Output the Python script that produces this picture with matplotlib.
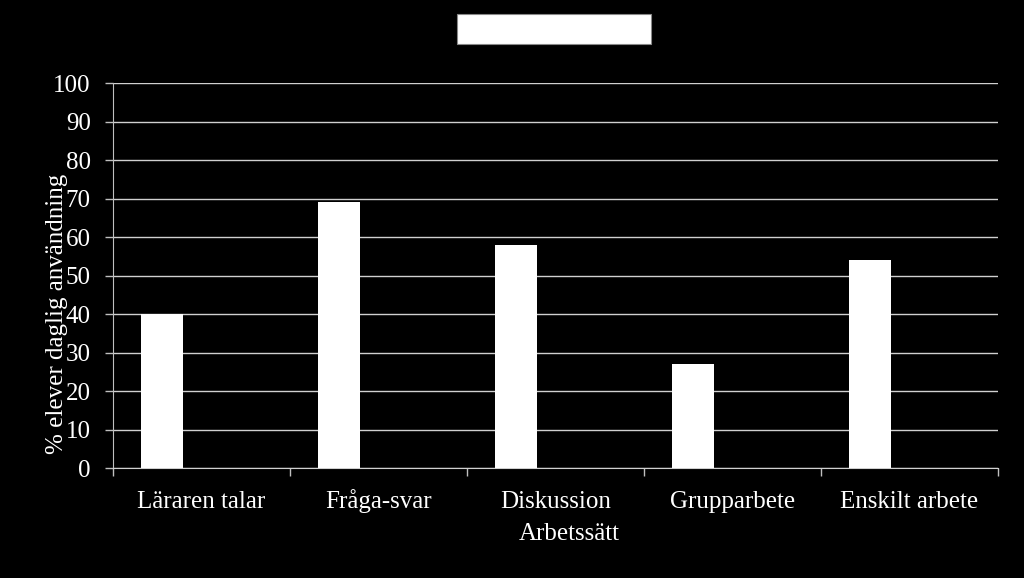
import matplotlib
matplotlib.use("Agg")
import matplotlib.pyplot as plt
import numpy as np
from matplotlib.patches import Rectangle

categories = ["Läraren talar", "Fråga-svar", "Diskussion", "Grupparbete", "Enskilt arbete"]
values = [40, 69, 58, 27, 54]
yticks = [0, 10, 20, 30, 40, 50, 60, 70, 80, 90, 100]

plt.rcParams['font.family'] = ['Liberation Serif', 'DejaVu Serif']

fig = plt.figure(figsize=(10.24, 5.78), dpi=100, facecolor='black')
ax = fig.add_axes([0.1104, 0.1903, 0.8642, 0.6661], facecolor='black')

x = np.arange(len(categories))
ax.bar(x - 0.223, values, width=0.233, color='white', zorder=3)

ax.set_xlim(-0.5, len(categories) - 0.5)
ax.set_ylim(0, 100)
ax.set_yticks(yticks)
ax.set_yticklabels([str(t) for t in yticks], fontsize=18, color='white')
ax.set_xticks(x)
ax.set_xticklabels(categories, fontsize=18, color='white', va='baseline')
ax.set_xticks(np.arange(len(categories) + 1) - 0.5, minor=True)
ax.tick_params(axis='x', which='major', length=0, pad=29)
ax.tick_params(axis='x', which='minor', length=6, color='#bfbfbf', width=1)
ax.tick_params(axis='y', length=6, color='#bfbfbf', width=1, pad=10)

ax.grid(axis='y', color='#d0d0d0', linewidth=1, zorder=0)
for s in ['top', 'right']:
    ax.spines[s].set_visible(False)
ax.spines['left'].set_color('#bfbfbf')
ax.spines['bottom'].set_color('#d0d0d0')

ax.set_xlabel("Arbetssätt", fontsize=18, color='white', va='baseline')
ax.xaxis.set_label_coords(0.515, -0.187)
ax.set_ylabel("% elever daglig användning", fontsize=18, color='white')
ax.yaxis.set_label_coords(-0.051, 0.40)

fig.patches.append(Rectangle((457 / 1024, 1 - 44 / 578), 194 / 1024, 30 / 578,
                             transform=fig.transFigure, facecolor='white',
                             edgecolor='#888888', linewidth=0.8))

fig.savefig("out.png", dpi=100, facecolor='black')
